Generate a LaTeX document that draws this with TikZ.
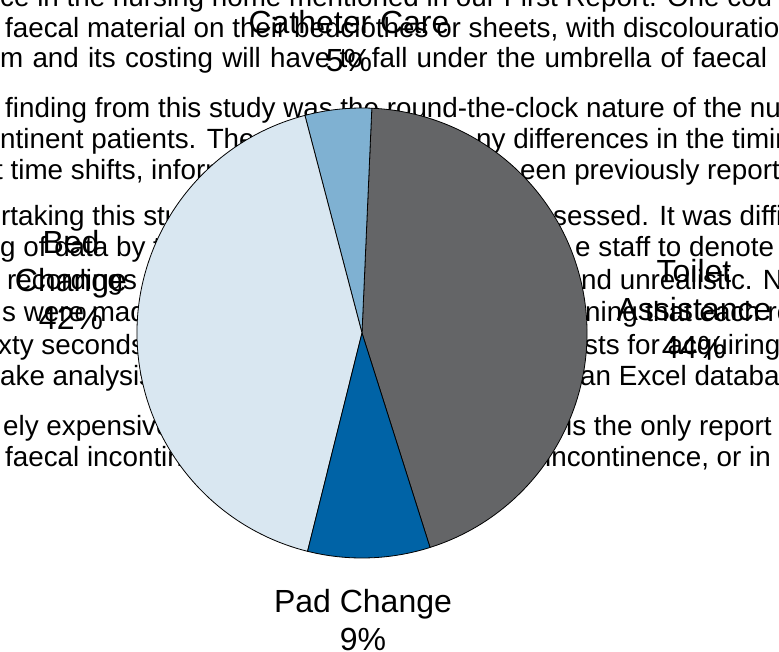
\documentclass[tikz,border=0pt]{standalone}
\usepackage{fontspec}
\setmainfont{Liberation Sans}

\definecolor{toiletgray}{HTML}{646567}
\definecolor{catheterblue}{HTML}{7FB1D2}
\definecolor{bedblue}{HTML}{D9E7F1}
\definecolor{padblue}{HTML}{0063A6}

\tikzset{
  bodytext/.style={inner sep=0pt, anchor=base west, font=\fontsize{27.8}{33}\selectfont},
  slicelabel/.style={inner sep=0pt, anchor=base, align=center, font=\fontsize{32}{38}\selectfont},
  slice/.style={draw=black, line width=0.8pt, line join=round},
}

\begin{document}
\begin{tikzpicture}[x=1pt, y=-1pt]
  \useasboundingbox (0,0) rectangle (779,652);
  \clip (0,0) rectangle (779,652);

  % page text behind the chart
  \node[bodytext] (l1)  at (0,7)    {ce in the nursing home mentioned in our First Report. One cou};
  \node[bodytext] (l2)  at (5,38)   {faecal material on their bedclothes or sheets, with discolouration};
  \node[bodytext] (l3)  at (0,68)   {\makebox[767pt][s]{m and its costing will have to fall under the umbrella of faecal}};
  \node[bodytext] (l4)  at (5,118)  {finding from this study was the round-the-clock nature of the nursing};
  \node[bodytext] (l5a) at (0,149)  {ntinent patients. The};
  \node[bodytext] (l5b) at (476,149){ny differences in the timing};
  \node[bodytext] (l6a) at (-5,180) {t time shifts, information};
  \node[bodytext] (l6b) at (520,180){een previously reported};
  \node[bodytext] (l7a) at (1,226)  {rtaking this study};
  \node[bodytext] (l7b) at (553,226){sessed. It was difficult};
  \node[bodytext] (l8a) at (0,257)  {g of data by the};
  \node[bodytext] (l8b) at (575,257){e staff to denote};
  \node[bodytext] (l9a) at (7,290)  {recordings};
  \node[bodytext] (l9b) at (581,290){nd unrealistic. No};
  \node[bodytext] (l10a) at (2,322) {s were made};
  \node[bodytext] (l10b) at (585,322){ning that each recording};
  \node[bodytext] (l11a) at (-2,354){xty seconds};
  \node[bodytext] (l11b) at (584,354){sts for acquiring};
  \node[bodytext] (l12a) at (0,385) {ake analysis};
  \node[bodytext] (l12b) at (580,385){an Excel database};
  \node[bodytext] (l13a) at (3,435) {ely expensive};
  \node[bodytext] (l13b) at (566,435){is the only report};
  \node[bodytext] (l14a) at (5,466) {faecal incontinence};
  \node[bodytext] (l14b) at (545,466){incontinence, or in cases};

  % pie chart, angles counter-clockwise from the right
  \begin{scope}[shift={(362,333)}, y=1pt]
    \coordinate (pc) at (0,0);
    \filldraw[slice, fill=toiletgray]   (pc) -- (287.6:225) arc[start angle=287.6, end angle=447.5, radius=225] -- cycle;
    \filldraw[slice, fill=catheterblue] (pc) -- (87.5:225)  arc[start angle=87.5,  end angle=104.7, radius=225] -- cycle;
    \filldraw[slice, fill=bedblue]      (pc) -- (104.7:225) arc[start angle=104.7, end angle=256,   radius=225] -- cycle;
    \filldraw[slice, fill=padblue]      (pc) -- (256:225)   arc[start angle=256,   end angle=287.6, radius=225] -- cycle;
  \end{scope}

  % slice labels (anchored on the baseline of their last line)
  \node[slicelabel] (cathlbl)   at (349,72)  {Catheter Care\\5\%};
  \node[slicelabel] (bedlbl)    at (71,330)  {Bed\\Change\\42\%};
  \node[slicelabel] (toiletlbl) at (694,358) {Toilet\\Assistance\\44\%};
  \node[slicelabel] (padlbl)    at (363,650) {Pad Change\\9\%};
\end{tikzpicture}
\end{document}
